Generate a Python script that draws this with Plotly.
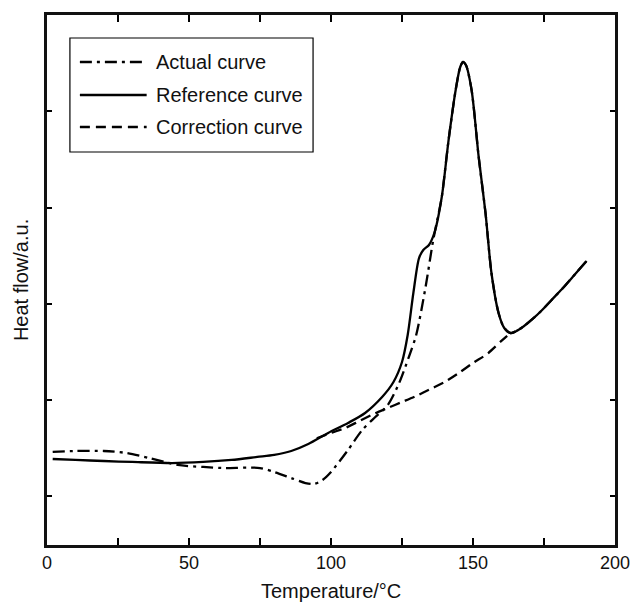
import plotly.graph_objects as go

# ---------------- data ----------------
temp_ref = [2, 10, 20, 30, 44, 55, 65, 74, 80, 86, 92, 99, 106, 112, 118, 122, 125, 127, 129, 131,
            132.5, 134.5, 136.5, 139, 141.4, 143.9, 145.5, 146.5, 147.5, 149.5, 152, 154.4,
            156.5, 159, 161, 163.2, 165, 168, 171, 174, 178, 182, 186, 190]
heat_ref = [1.384, 1.374, 1.363, 1.353, 1.342, 1.353, 1.374, 1.405, 1.426, 1.467, 1.540, 1.655,
            1.759, 1.863, 2.029, 2.185, 2.393, 2.674, 3.111, 3.475, 3.559, 3.611, 3.746, 4.110,
            4.703, 5.224, 5.463, 5.515, 5.484, 5.224, 4.527, 3.944, 3.319, 2.903, 2.747, 2.695,
            2.711, 2.768, 2.841, 2.924, 3.049, 3.174, 3.309, 3.444]

temp_act = [2, 10, 20, 28, 36, 46, 55, 62, 75, 80, 86, 91, 94, 97, 100, 106, 111, 115.6, 120,
            124, 127.4, 130, 133.3, 136, 138, 139, 141.4, 143.9, 145.5, 146.5, 147.5, 149.5,
            152, 154.4, 156.5, 159, 161, 163.2, 165, 168, 171, 174, 178, 182, 186, 190]
heat_act = [1.457, 1.467, 1.467, 1.446, 1.394, 1.322, 1.301, 1.290, 1.290, 1.249, 1.186, 1.134,
            1.124, 1.165, 1.249, 1.478, 1.686, 1.821, 1.946, 2.175, 2.445, 2.674, 3.174, 3.663,
            3.954, 4.110, 4.703, 5.224, 5.463, 5.515, 5.484, 5.224, 4.527, 3.944, 3.319, 2.903,
            2.747, 2.695, 2.711, 2.768, 2.841, 2.924, 3.049, 3.174, 3.309, 3.444]

temp_cor = [95, 100, 105, 110, 115, 120, 125, 130, 135, 140, 145, 150, 155, 160, 163.2]
heat_cor = [1.600, 1.655, 1.707, 1.779, 1.852, 1.915, 1.977, 2.040, 2.112, 2.185, 2.279,
            2.383, 2.477, 2.612, 2.695]

x_ticks = [0, 25, 50, 75, 100, 125, 150, 175, 200]
x_labels = ["0", "", "50", "", "100", "", "150", "", "200"]
y_ticks = [1, 2, 3, 4, 5]

legend_names = ["Actual curve", "Reference curve", "Correction curve"]

# ---------------- layout constants ----------------
W, H = 630, 603
L, R, T, B = 47, 13, 15, 58
FONT = "Liberation Sans, Arial, sans-serif"
DASHDOT = "12px,5px,3px,5px"
DASHED = "10px,6px"
LW = 2.3

fig = go.Figure()
fig.add_trace(go.Scatter(x=temp_cor, y=heat_cor, mode="lines",
                         line=dict(color="black", width=LW, dash=DASHED, shape="spline", smoothing=0.8),
                         showlegend=False, hoverinfo="skip"))
fig.add_trace(go.Scatter(x=temp_act, y=heat_act, mode="lines",
                         line=dict(color="black", width=LW, dash=DASHDOT, shape="spline", smoothing=0.8),
                         showlegend=False, hoverinfo="skip"))
fig.add_trace(go.Scatter(x=temp_ref, y=heat_ref, mode="lines",
                         line=dict(color="black", width=LW, shape="spline", smoothing=0.8),
                         showlegend=False, hoverinfo="skip"))

pw, ph = W - L - R, H - T - B


def px2paper(px, py):
    return (px - L) / pw, (H - B - py) / ph


# manual legend box
x0, y0 = px2paper(70, 38)
x1, y1 = px2paper(314, 152)
shapes = [dict(type="rect", xref="paper", yref="paper", x0=x0, y0=y1, x1=x1, y1=y0,
               line=dict(color="black", width=1.2), fillcolor="white", layer="above")]
annotations = []
rows = [62, 95, 127]
dashes = [DASHDOT, "solid", DASHED]
for name, row, d in zip(legend_names, rows, dashes):
    ax0, ay = px2paper(80, row)
    ax1, _ = px2paper(147, row)
    shapes.append(dict(type="line", xref="paper", yref="paper", x0=ax0, x1=ax1, y0=ay, y1=ay,
                       line=dict(color="black", width=LW, dash=d), layer="above"))
    tx, _ = px2paper(154, row)
    annotations.append(dict(text=name, xref="paper", yref="paper", x=tx, y=ay, xanchor="left",
                            yanchor="middle", showarrow=False,
                            font=dict(family=FONT, size=20, color="#111")))

# axis titles
tx, ty = px2paper(332, 591)
annotations.append(dict(text="Temperature/°C", xref="paper", yref="paper", x=tx, y=ty,
                        xanchor="center", yanchor="middle", showarrow=False,
                        font=dict(family=FONT, size=20, color="#111")))
tx, ty = px2paper(21, 280)
annotations.append(dict(text="Heat flow/a.u.", xref="paper", yref="paper", x=tx, y=ty,
                        xanchor="center", yanchor="middle", showarrow=False, textangle=-90,
                        font=dict(family=FONT, size=20, color="#111")))

fig.update_layout(
    width=W, height=H,
    margin=dict(l=L, r=R, t=T, b=B),
    paper_bgcolor="white", plot_bgcolor="white",
    shapes=shapes, annotations=annotations,
    showlegend=False,
    xaxis=dict(range=[0, 200], tickvals=x_ticks, ticktext=x_labels, ticks="inside",
               ticklen=7, tickwidth=1.5, tickcolor="black", showline=True, linewidth=2.5,
               linecolor="#111", mirror="ticks", showgrid=False, zeroline=False,
               ticklabeloverflow="allow", automargin=False,
               tickfont=dict(family=FONT, size=18, color="#111")),
    yaxis=dict(range=[0.489, 6.004], tickvals=y_ticks, showticklabels=False, ticks="inside",
               ticklen=5, tickwidth=1.5, tickcolor="black", showline=True, linewidth=2.5,
               linecolor="#111", mirror="ticks", showgrid=False, zeroline=False),
)

fig.write_html("out.html")
